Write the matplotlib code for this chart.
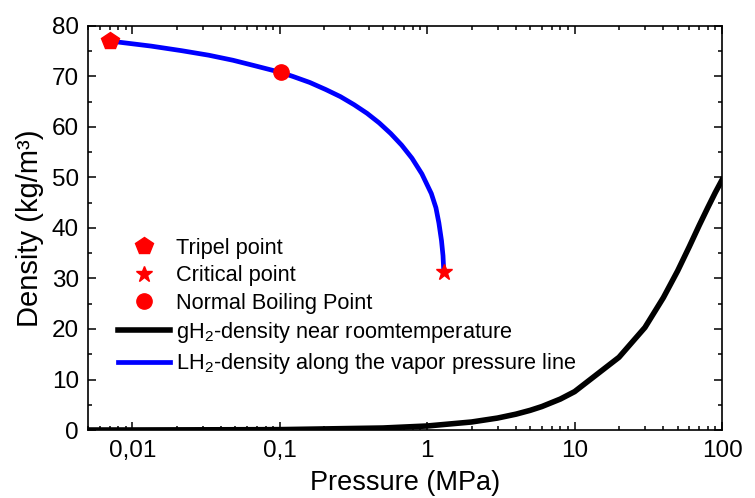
import matplotlib
matplotlib.use("Agg")
import matplotlib.pyplot as plt
from matplotlib.ticker import FixedLocator, FixedFormatter, LogLocator, MultipleLocator, NullFormatter

plt.rcParams['font.family'] = ['Liberation Sans', 'DejaVu Sans']
plt.rcParams['mathtext.fontset'] = 'custom'
plt.rcParams['mathtext.rm'] = 'Liberation Sans'
plt.rcParams['mathtext.it'] = 'Liberation Sans:italic'

# LH2 saturated liquid density along vapour pressure line
lh2_pressure = [0.00704, 0.0134, 0.0215, 0.0329, 0.0481, 0.0679, 0.1013, 0.1226, 0.1598,
                0.205, 0.2577, 0.3191, 0.3904, 0.4722, 0.5653, 0.6705, 0.7886, 0.9204,
                1.0669, 1.146, 1.20, 1.25, 1.28, 1.296]
lh2_density = [77.0, 76.0, 75.1, 74.2, 73.2, 72.1, 70.8, 70.0, 68.8,
               67.4, 66.0, 64.4, 62.7, 60.8, 58.7, 56.4, 53.8, 50.7,
               46.8, 44.0, 41.0, 37.5, 34.5, 31.3]

# gH2 density near room temperature
gh2_pressure = [0.005, 0.01, 0.1, 0.5, 1, 2, 3, 4, 5, 6, 8, 10, 20, 30, 40, 50, 60, 70, 80, 90, 100]
gh2_density = [0.004, 0.008, 0.08, 0.40, 0.80, 1.59, 2.37, 3.14, 3.90, 4.65, 6.13, 7.6,
               14.4, 20.3, 26.2, 31.5, 36.3, 40.5, 44.0, 47.0, 49.5]

triple_p, triple_rho = [0.00704], [77.0]
critical_p, critical_rho = [1.296], [31.3]
nbp_p, nbp_rho = [0.1013], [70.8]

xticks = [0.01, 0.1, 1, 10, 100]
xtick_labels = ["0,01", "0,1", "1", "10", "100"]
yticks = [0, 10, 20, 30, 40, 50, 60, 70, 80]

fig = plt.figure(figsize=(7.55, 4.98), dpi=100)
ax = fig.add_axes([0.1166, 0.1365, 0.8397, 0.8115])

ax.plot(gh2_pressure, gh2_density, color='black', lw=4.0, solid_joinstyle='miter',
        label='gH$_2$-density near roomtemperature', zorder=2)
ax.plot(lh2_pressure, lh2_density, color='#0000ff', lw=3.4,
        label='LH$_2$-density along the vapor pressure line', zorder=3)
ax.plot(triple_p, triple_rho, linestyle='none', marker='p', ms=13, color='red',
        label='Tripel point', zorder=4, clip_on=False)
ax.plot(critical_p, critical_rho, linestyle='none', marker='*', ms=12, color='red',
        label='Critical point', zorder=4)
ax.plot(nbp_p, nbp_rho, linestyle='none', marker='o', ms=11, color='red',
        label='Normal Boiling Point', zorder=4)

ax.set_xscale('log')
ax.set_xlim(0.005, 100)
ax.set_ylim(0, 80)
ax.xaxis.set_major_locator(FixedLocator(xticks))
ax.xaxis.set_major_formatter(FixedFormatter(xtick_labels))
ax.xaxis.set_minor_locator(LogLocator(base=10, subs=range(2, 10), numticks=20))
ax.xaxis.set_minor_formatter(NullFormatter())
ax.yaxis.set_major_locator(FixedLocator(yticks))
ax.yaxis.set_minor_locator(MultipleLocator(5))

ax.tick_params(which='both', direction='in', top=True, right=True, width=1.1)
ax.tick_params(which='major', length=5.5, labelsize=17.5)
ax.tick_params(axis='x', which='major', pad=7)
ax.tick_params(axis='y', which='major', pad=6.5)
ax.tick_params(which='minor', length=3)
for s in ax.spines.values():
    s.set_linewidth(1.2)

ax.set_xlabel('Pressure (MPa)', fontsize=19.5, labelpad=6)
ax.set_ylabel('Density (kg/m³)', fontsize=21, labelpad=6)

h, l = ax.get_legend_handles_labels()
order = [2, 3, 4, 0, 1]
ax.legend([h[i] for i in order], [l[i] for i in order], loc='lower left',
          bbox_to_anchor=(0.04, 0.122), frameon=False, fontsize=15.7,
          handlelength=2.4, handletextpad=0.25, labelspacing=0.29, borderpad=0.2,
          borderaxespad=0)

fig.savefig('out.png', dpi=100)
